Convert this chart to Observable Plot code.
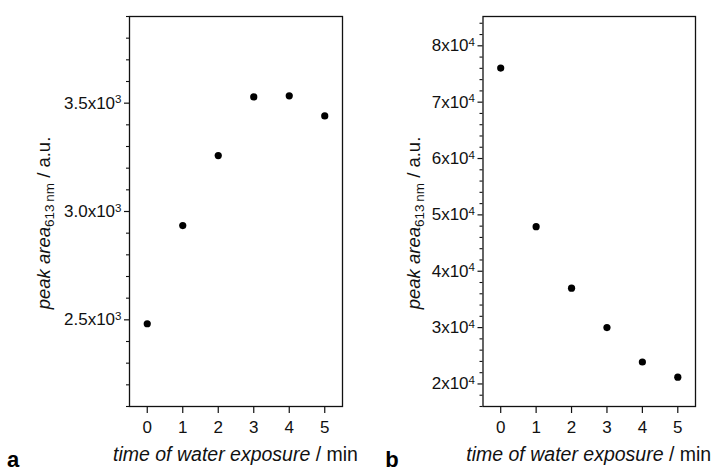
<!DOCTYPE html>
<html><head><meta charset="utf-8">
<script src="https://cdn.jsdelivr.net/npm/d3@7"></script>
<script src="https://cdn.jsdelivr.net/npm/@observablehq/plot@0.6"></script>
<style>
body{margin:0;background:#fff;}
#wrap{position:relative;width:718px;height:472px;overflow:hidden;}
.panel{position:absolute;top:0;}
</style>
</head><body>
<div id="wrap"><div class="panel" id="pa" style="left:0"></div><div class="panel" id="pb" style="left:359px"></div></div>
<script>
// ---- data ----
const time = [0, 1, 2, 3, 4, 5];
const areaA = [2482, 2935, 3258, 3529, 3534, 3441];
const areaB = [76050, 47900, 37000, 30000, 23900, 21200];
const xTicks = [0, 1, 2, 3, 4, 5];
const majorA = [2500, 3000, 3500];
const majorALabels = ["2.5x10^3", "3.0x10^3", "3.5x10^3"];
const minorA = [2100,2200,2300,2400,2600,2700,2800,2900,3100,3200,3300,3400,3600,3700,3800,3900];
const majorB = [20000, 30000, 40000, 50000, 60000, 70000, 80000];
const majorBLabels = ["2x10^4","3x10^4","4x10^4","5x10^4","6x10^4","7x10^4","8x10^4"];
const minorB = [16000,18000,22000,24000,26000,28000,32000,34000,36000,38000,42000,44000,46000,48000,52000,54000,56000,58000,62000,64000,66000,68000,72000,74000,76000,78000,82000,84000];
const panelLetters = ["a", "b"];
const xLabelItalic = "time of water exposure";
const xLabelRest = " / min";
const yLabelItalic = "peak area";
const yLabelSub = "613\u2009nm";
const yLabelRest = " / a.u.";

const FONT = "'Liberation Sans', Arial, sans-serif";

function makePanel(el, values, yDomain, major, majorLabels, minor, m, yLabelX) {
  const data = time.map((t, i) => ({t, v: values[i]}));
  const lab = new Map(major.map((d, i) => [d, majorLabels[i]]));
  const W = 359, H = 472;
  const chart = Plot.plot({
    width: W, height: H,
    marginLeft: m.left, marginRight: m.right, marginTop: m.top, marginBottom: m.bottom,
    style: {fontFamily: FONT, fontSize: "17px", color: "#111", background: "white", overflow: "visible"},
    x: {domain: [-0.5, 5.5], label: null},
    y: {domain: yDomain, label: null},
    marks: [
      Plot.axisX(xTicks, {tickSize: 7, tickPadding: 7, fontSize: 17, tickFormat: d => String(d), label: null, strokeWidth: 1.2}),
      Plot.axisY(minor, {tickSize: 3, tickFormat: null, text: null, label: null, strokeWidth: 1.1}),
      Plot.axisY(major, {tickSize: 5, tickPadding: 3, fontSize: 17, tickFormat: d => lab.get(d), label: null, strokeWidth: 1.2}),
      Plot.frame({stroke: "#111", strokeWidth: 1.3}),
      Plot.dot(data, {x: "t", y: "v", r: 3.6, fill: "#000", stroke: null})
    ]
  });
  el.appendChild(chart);
  const svg = d3.select(chart);
  svg.selectAll("text").each(function() {
    const s = this.textContent;
    if (s.includes("^")) {
      const [base, exp] = s.split("^");
      const t = d3.select(this);
      t.text(null);
      t.append("tspan").text(base);
      t.append("tspan").attr("dy", "-0.45em").attr("font-size", "0.68em").text(exp);
    }
  });
  const frameL = m.left, frameR = W - m.right, frameT = m.top, frameB = H - m.bottom;
  const xl = svg.append("text").attr("x", (frameL + frameR) / 2).attr("y", 461)
    .attr("text-anchor", "middle").attr("font-size", 19.5).attr("fill", "#111").attr("font-family", FONT);
  xl.append("tspan").attr("font-style", "italic").text(xLabelItalic);
  xl.append("tspan").text(xLabelRest);
  const yl = svg.append("text")
    .attr("transform", `translate(${yLabelX},${(frameT + frameB) / 2 + 12}) rotate(-90)`)
    .attr("text-anchor", "middle").attr("font-size", 18.5).attr("fill", "#111").attr("font-family", FONT);
  yl.append("tspan").attr("font-style", "italic").text(yLabelItalic);
  yl.append("tspan").attr("font-size", 13.5).attr("dy", 4).text(yLabelSub);
  yl.append("tspan").attr("dy", -4).text(yLabelRest);
  return svg;
}

const sa = makePanel(document.getElementById("pa"), areaA, [2100, 3900], majorA, majorALabels, minorA,
  {left: 129, right: 17, top: 16, bottom: 66}, 50);
const sb = makePanel(document.getElementById("pb"), areaB, [16000, 85200], majorB, majorBLabels, minorB,
  {left: 123.5, right: 23, top: 16, bottom: 66}, 61);

sa.append("text").attr("x", 13).attr("y", 467).attr("font-size", 22).attr("font-weight", "bold")
  .attr("font-family", FONT).attr("fill", "#000").text(panelLetters[0]);
sb.append("text").attr("x", 33).attr("y", 467).attr("font-size", 22).attr("font-weight", "bold")
  .attr("font-family", FONT).attr("fill", "#000").text(panelLetters[1]);
</script>
</body></html>
